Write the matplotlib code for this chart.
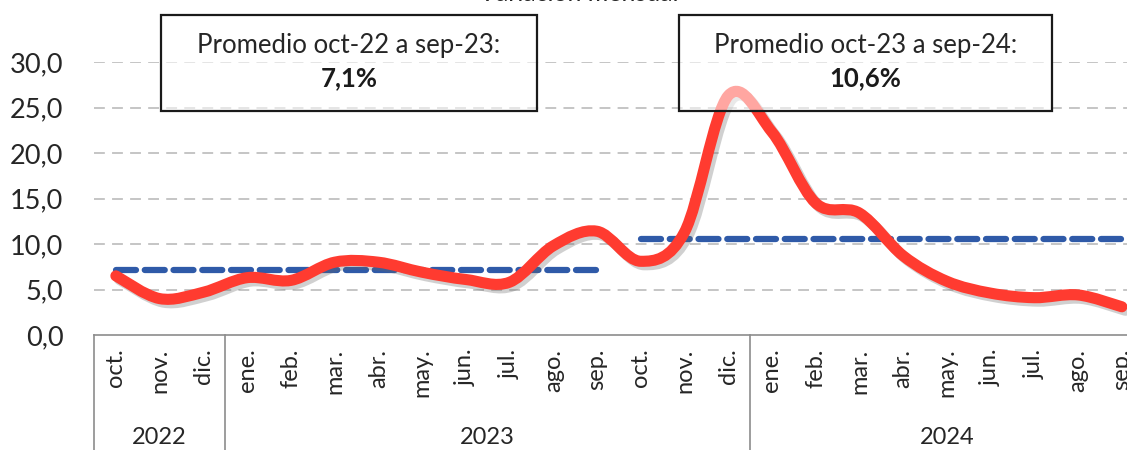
import matplotlib
matplotlib.use("Agg")
import matplotlib.pyplot as plt
import matplotlib.patheffects as pe
from matplotlib.path import Path
from matplotlib.patches import PathPatch
import numpy as np

plt.rcParams['font.family'] = ['Lato', 'DejaVu Sans']

# monthly inflation, oct-22 .. sep-24
months = ['oct.', 'nov.', 'dic.',
          'ene.', 'feb.', 'mar.', 'abr.', 'may.', 'jun.', 'jul.', 'ago.', 'sep.', 'oct.', 'nov.', 'dic.',
          'ene.', 'feb.', 'mar.', 'abr.', 'may.', 'jun.', 'jul.', 'ago.', 'sep.']
values = [6.5, 4.0, 4.7, 6.3, 6.0, 8.0, 8.0, 6.9, 6.1, 5.8, 9.8, 11.4,
          8.1, 11.3, 26.3, 22.3, 14.5, 13.4, 8.7, 5.9, 4.6, 4.1, 4.4, 3.1]
years = ['2022', '2023', '2024']
year_len = [3, 12, 9]
avg_periods = [(0, 11, 7.1), (12, 23, 10.6)]
avg_labels = ['Promedio oct-22 a sep-23:', 'Promedio oct-23 a sep-24:']
avg_values = ['7,1%', '10,6%']

W, H = 1127, 450
fig = plt.figure(figsize=(W / 100, H / 100), dpi=100)
x0, x1, ytop, ybot = 94, 1143.75, 62, 335
ax = fig.add_axes([x0 / W, 1 - ybot / H, (x1 - x0) / W, (ybot - ytop) / H])
ax.set_xlim(-0.5, len(months) - 0.5)
ax.set_ylim(0, 30)

for s in ['top', 'right', 'left']:
    ax.spines[s].set_visible(False)
ax.spines['bottom'].set_color('#8c8c8c')
ax.spines['bottom'].set_linewidth(1.2)

yt = [0, 5, 10, 15, 20, 25, 30]
ax.set_yticks(yt)
ax.set_yticklabels([f'{v:.1f}'.replace('.', ',') for v in yt], fontsize=19.5, color='#262626')
ax.tick_params(axis='y', length=0, pad=22)
ax.set_xticks([])
for v in yt[1:]:
    ax.axhline(v, color='#c0c0c0', lw=1.3, dashes=(6, 4), zorder=1)

# smoothed line (Excel-like bezier)
xs = np.arange(len(values), dtype=float)
pts = np.column_stack([xs, values])
verts = [pts[0]]
codes = [Path.MOVETO]
n = len(pts)
for i in range(n - 1):
    p0 = pts[max(i - 1, 0)]
    p1 = pts[i]
    p2 = pts[i + 1]
    p3 = pts[min(i + 2, n - 1)]
    c1 = p1 + (p2 - p0) / 6
    c2 = p2 - (p3 - p1) / 6
    verts += [c1, c2, p2]
    codes += [Path.CURVE4] * 3
patch = PathPatch(Path(verts, codes), fill=False, edgecolor='#ff3b30', lw=8,
                  capstyle='round', joinstyle='round', zorder=3)
patch.set_path_effects([pe.SimpleLineShadow(offset=(2.5, -2.5), shadow_color='#666666', alpha=0.3),
                        pe.Normal()])
ax.add_patch(patch)

# averages
for a, b, v in avg_periods:
    ax.plot([a, b], [v, v], color='#2f5aa8', lw=4.5, dashes=(3.2, 1.4),
            dash_capstyle='round', zorder=2)

# category labels
for i, m in enumerate(months):
    ax.text(i, -0.05, m, transform=ax.get_xaxis_transform(), rotation=90,
            ha='center', va='top', fontsize=17, color='#262626')
start = 0
edges = [0]
for y, l in zip(years, year_len):
    ax.text(start + l / 2 - 0.5, -0.374, y, transform=ax.get_xaxis_transform(),
            ha='center', va='center', fontsize=17, color='#262626')
    start += l
    edges.append(start)
for e in edges:
    ax.plot([e - 0.5, e - 0.5], [0, -0.45], transform=ax.get_xaxis_transform(),
            color='#8c8c8c', lw=1.2, clip_on=False)

# average boxes
boxes = [(161, 537), (679, 1052)]
for (bl, br), t1, t2 in zip(boxes, avg_labels, avg_values):
    fig.patches.append(plt.Rectangle((bl / W, 1 - 111 / H), (br - bl) / W, 96 / H,
                                     transform=fig.transFigure, facecolor='white', alpha=0.55,
                                     edgecolor='none', zorder=5))
    fig.patches.append(plt.Rectangle((bl / W, 1 - 111 / H), (br - bl) / W, 96 / H,
                                     transform=fig.transFigure, facecolor='none',
                                     edgecolor='#1a1a1a', lw=1.6, zorder=6))
    cx = (bl + br) / 2 / W
    fig.text(cx, 1 - 46 / H, t1, ha='center', va='center', fontsize=18.5, color='#262626', zorder=7)
    fig.text(cx, 1 - 78 / H, t2, ha='center', va='center', fontsize=18.5, weight='bold',
             color='#1a1a1a', zorder=7)

fig.text(579 / W, 1 + 6 / H, 'Variación mensual', ha='center', va='center', fontsize=18,
         color='#262626')

fig.savefig('out.png', dpi=100)
